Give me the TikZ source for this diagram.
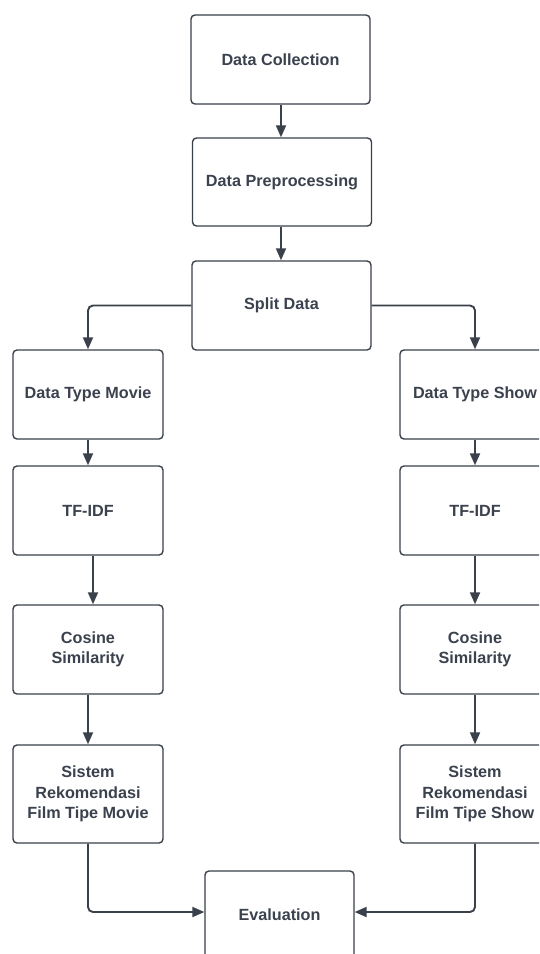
\documentclass[tikz,border=0pt]{standalone}
\usepackage{fontspec}
\setmainfont{Liberation Sans}
\usetikzlibrary{arrows.meta}
\definecolor{ink}{RGB}{58,65,75}
\definecolor{txt}{RGB}{59,66,78}
\tikzset{
  procbox/.style={draw=ink, line width=1.4pt, rounded corners=4pt, fill=white,
    minimum width=150pt, minimum height=89pt, inner sep=2pt,
    align=center, text=txt, font=\fontsize{16.2}{20.2}\selectfont\bfseries},
  wide/.style={minimum width=179pt},
  flow/.style={draw=ink, line width=1.9pt, rounded corners=5pt,
    -{Triangle[length=12pt,width=10pt]}}
}
\begin{document}
\begin{tikzpicture}[x=1pt,y=-1pt]
\clip (0,0) rectangle (539,954);
\fill[white] (0,0) rectangle (539,954);
\node[procbox,wide] (dc) at (280.5,59.5) {Data Collection};
\node[procbox,wide,minimum height=88pt] (dp) at (282,182) {Data Preprocessing};
\node[procbox,wide] (sd) at (281.5,305.5) {Split Data};
\node[procbox] (dtm) at (88,394.5) {Data Type Movie};
\node[procbox] (dts) at (475,394.5) {Data Type Show};
\node[procbox] (tf1) at (88,510.5) {TF-IDF};
\node[procbox] (tf2) at (475,510.5) {TF-IDF};
\node[procbox] (cs1) at (88,649.5) {Cosine\\Similarity};
\node[procbox] (cs2) at (475,649.5) {Cosine\\Similarity};
\node[procbox,minimum height=98pt] (sr1) at (88,794) {Sistem\\Rekomendasi\\Film Tipe Movie};
\node[procbox,minimum height=98pt] (sr2) at (475,794) {Sistem\\Rekomendasi\\Film Tipe Show};
\node[procbox,minimum width=149pt,minimum height=88pt] (ev) at (279.5,915) {Evaluation};

\draw[flow] ([xshift=0.5pt]dc.south) -- ([xshift=0.5pt]dc.south |- dp.north);
\draw[flow] ([xshift=-1pt]dp.south) -- ([xshift=-1pt]dp.south |- sd.north);
\draw[flow] (sd.west) -| (dtm.north);
\draw[flow] (sd.east) -| (dts.north);
\draw[flow] (dtm) -- (tf1);
\draw[flow] (dts) -- (tf2);
\draw[flow] ([xshift=5pt]tf1.south) -- ([xshift=5pt]cs1.north);
\draw[flow] (tf2) -- (cs2);
\draw[flow] (cs1) -- (sr1);
\draw[flow] (cs2) -- (sr2);
\draw[flow] (sr1.south) |- ([yshift=3pt]ev.west);
\draw[flow] (sr2.south) |- ([yshift=3pt]ev.east);
\end{tikzpicture}
\end{document}
